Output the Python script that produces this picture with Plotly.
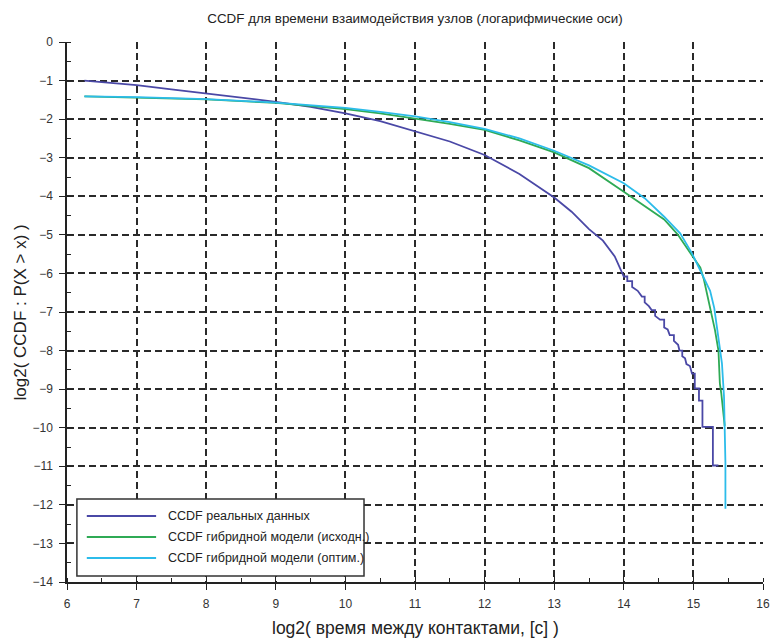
import plotly.graph_objects as go

# ---- data ----
real_x = [6.25, 6.5, 7.0, 7.5, 8.0, 8.5, 9.0, 9.5, 10.0, 10.5, 11.0, 11.5, 12.0, 12.5, 13.0,
          13.25, 13.5, 13.7, 13.87, 14.0, 14.05, 14.05, 14.12, 14.12, 14.2, 14.26, 14.3, 14.3,
          14.36, 14.4, 14.45, 14.45, 14.52, 14.58, 14.58, 14.63, 14.66, 14.72, 14.72, 14.78,
          14.8, 14.84, 14.84, 14.88, 14.9, 14.95, 14.98, 15.02, 15.02, 15.08, 15.08, 15.13,
          15.13, 15.28, 15.28, 15.36]
real_y = [-1.0, -1.04, -1.12, -1.23, -1.34, -1.45, -1.55, -1.68, -1.85, -2.05, -2.31, -2.58,
          -2.93, -3.42, -4.03, -4.4, -4.85, -5.15, -5.56, -6.08, -6.08, -6.2, -6.2, -6.35, -6.45,
          -6.6, -6.6, -6.75, -6.85, -6.95, -6.95, -7.1, -7.2, -7.2, -7.4, -7.45, -7.6, -7.6,
          -7.75, -7.85, -8.0, -8.0, -8.15, -8.2, -8.35, -8.4, -8.6, -8.6, -8.98, -8.98, -9.3,
          -9.3, -9.98, -9.98, -10.98, -10.98]

hyb_orig_x = [6.25, 7.0, 8.0, 9.0, 10.0, 10.5, 11.0, 11.5, 12.0, 12.5, 13.0, 13.5, 14.0, 14.3,
              14.58, 14.77, 14.93, 15.0, 15.1, 15.15, 15.22, 15.29, 15.31, 15.36, 15.38, 15.4,
              15.45]
hyb_orig_y = [-1.41, -1.44, -1.49, -1.58, -1.74, -1.85, -1.98, -2.12, -2.28, -2.55, -2.86, -3.27,
              -3.88, -4.25, -4.6, -4.98, -5.4, -5.6, -5.85, -6.15, -6.7, -7.29, -7.47, -8.0,
              -8.85, -9.1, -9.95]

hyb_opt_x = [6.25, 7.0, 8.0, 9.0, 10.0, 10.5, 11.0, 11.5, 12.0, 12.5, 13.0, 13.5, 14.0, 14.3,
             14.58, 14.81, 14.98, 15.12, 15.24, 15.3, 15.34, 15.41, 15.44, 15.45, 15.46, 15.46]
hyb_opt_y = [-1.41, -1.43, -1.48, -1.57, -1.71, -1.81, -1.93, -2.08, -2.25, -2.5, -2.82, -3.2,
             -3.66, -4.05, -4.53, -4.96, -5.48, -6.0, -6.45, -6.9, -7.47, -8.33, -9.2, -10.06,
             -10.9, -12.1]

names = ["CCDF реальных данных", "CCDF гибридной модели (исходн.)", "CCDF гибридной модели (оптим.)"]
colors = ["#4a48a6", "#2faa55", "#2cbcea"]

title_text = "CCDF для времени взаимодействия узлов (логарифмические оси)"
x_title = "log2( время между контактами, [c] )"
y_title = "log2( CCDF : P(X > x) )"

x_range = [6, 16]
y_range = [-14, 0]

FONT = "Liberation Sans, Arial, sans-serif"
AX = "#222222"

fig = go.Figure()
fig.add_trace(go.Scatter(x=real_x, y=real_y, mode="lines", name=names[0],
                         line=dict(color=colors[0], width=1.8), showlegend=False))
fig.add_trace(go.Scatter(x=hyb_orig_x, y=hyb_orig_y, mode="lines", name=names[1],
                         line=dict(color=colors[1], width=1.8), showlegend=False))
fig.add_trace(go.Scatter(x=hyb_opt_x, y=hyb_opt_y, mode="lines", name=names[2],
                         line=dict(color=colors[2], width=1.8), showlegend=False,
                         xaxis="x2", yaxis="y2"))

grid = dict(showgrid=True, gridcolor="#2a2a2a", gridwidth=1.5, griddash="7px,4px")

fig.update_layout(
    width=777, height=639,
    margin=dict(l=67, r=7, t=42, b=57),
    plot_bgcolor="white", paper_bgcolor="white",
    font=dict(family=FONT, color="#222222", size=12),
    title=dict(text=title_text, x=0.5, xref="paper", xanchor="center",
               y=1 - 18 / 639, yref="container", yanchor="middle",
               font=dict(family=FONT, size=13.4, color="#222222")),
    xaxis=dict(range=x_range, dtick=1, tick0=6, zeroline=False,
               showline=True, linecolor=AX, linewidth=1.5,
               ticks="outside", ticklen=6, tickwidth=1.3, tickcolor=AX,
               ticklabelstandoff=4,
               minor=dict(ticks="inside", dtick=0.5, ticklen=4, tickwidth=1.2,
                          tickcolor=AX, showgrid=False),
               tickfont=dict(size=12, color="#333333"), **grid),
    yaxis=dict(range=y_range, dtick=1, tick0=0, zeroline=False,
               showline=True, linecolor=AX, linewidth=1.5,
               ticks="outside", ticklen=6, tickwidth=1.3, tickcolor=AX,
               ticklabelstandoff=4,
               minor=dict(ticks="inside", dtick=0.5, ticklen=4, tickwidth=1.2,
                          tickcolor=AX, showgrid=False),
               tickfont=dict(size=12, color="#333333"), **grid),
    xaxis2=dict(range=x_range, dtick=1, tick0=6, overlaying="x", anchor="y", side="bottom",
                showgrid=False, zeroline=False, showline=False, showticklabels=False,
                ticks="inside", ticklen=6, tickwidth=1.3, tickcolor=AX),
    yaxis2=dict(range=y_range, dtick=1, tick0=0, overlaying="y", anchor="x", side="left",
                showgrid=False, zeroline=False, showline=False, showticklabels=False,
                ticks="inside", ticklen=6, tickwidth=1.3, tickcolor=AX),
)

# axis titles
fig.add_annotation(text=x_title, xref="paper", yref="paper", x=0.5, y=(582 - 628) / 540,
                   xanchor="center", yanchor="middle", showarrow=False,
                   font=dict(family=FONT, size=17.5, color="#222222"))
fig.add_annotation(text=y_title, xref="paper", yref="paper", x=(20 - 67) / 703, y=(582 - 312) / 540,
                   xanchor="center", yanchor="middle", showarrow=False, textangle=-90,
                   font=dict(family=FONT, size=17, color="#222222"))

# legend box (drawn manually to match the long sample lines)
def px_x(p):
    return (p - 67) / 703

def px_y(p):
    return (582 - p) / 540

fig.add_shape(type="rect", xref="paper", yref="paper",
              x0=px_x(77), x1=px_x(367), y0=px_y(576), y1=px_y(499),
              line=dict(color="#333333", width=1.5), fillcolor="white", layer="above")
rows = [516, 537, 558]
for name, col, ry in zip(names, colors, rows):
    fig.add_shape(type="line", xref="paper", yref="paper",
                  x0=px_x(87), x1=px_x(157), y0=px_y(ry), y1=px_y(ry),
                  line=dict(color=col, width=1.8), layer="above")
    fig.add_annotation(text=name, xref="paper", yref="paper", x=px_x(167), y=px_y(ry),
                       xanchor="left", yanchor="middle", showarrow=False,
                       font=dict(family=FONT, size=12.5, color="#222222"))

fig.write_html("out.html", config={"displayModeBar": False},
               post_script="document.body.style.margin='0';document.body.style.overflow='hidden';")
